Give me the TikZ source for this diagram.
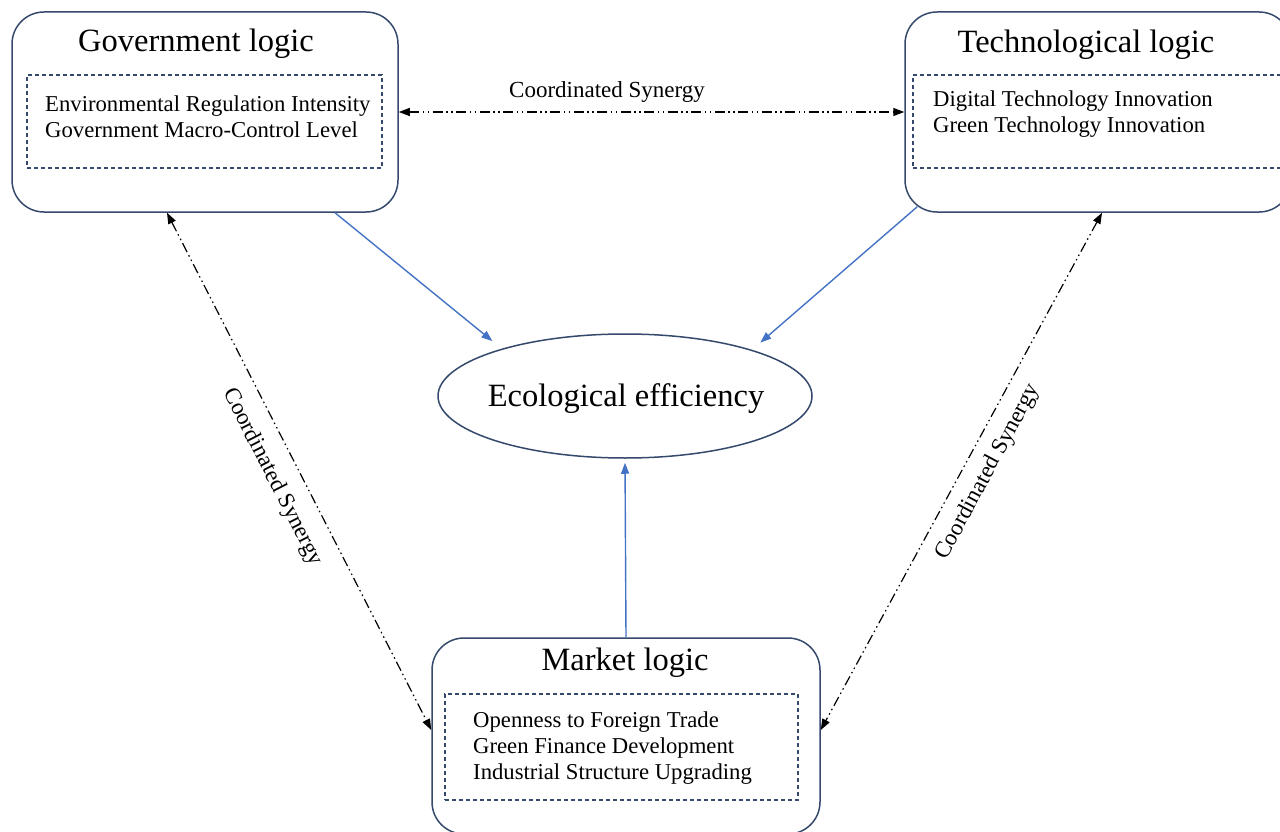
\documentclass[tikz,border=0pt]{standalone}
\usepackage{fontspec}
\setmainfont{Liberation Serif}
\usetikzlibrary{arrows.meta,shapes.geometric}
\definecolor{frame}{HTML}{34496B}
\definecolor{flow}{HTML}{4472C4}
\begin{document}
\begin{tikzpicture}[x=1pt,y=-1pt,
  logicbox/.style={draw=frame,line width=1.5pt,rounded corners=32pt,inner sep=0pt,minimum width=386pt},
  itembox/.style={draw=frame,line width=1.1pt,dash pattern=on 4pt off 3pt,inner sep=0pt},
  titletext/.style={anchor=base,font=\fontsize{32.5}{38}\selectfont,inner sep=0pt},
  itemtext/.style={anchor=base west,font=\fontsize{22.7}{26}\selectfont,inner sep=0pt},
  flowarrow/.style={draw=flow,line width=1.4pt,-{Triangle[length=11pt,width=8pt]}},
  synergy/.style={draw=black,line width=1.2pt,
    dash pattern=on 10pt off 3.5pt on 1.5pt off 3.5pt on 1.5pt off 3.5pt,
    {Triangle[length=11pt,width=8pt]}-{Triangle[length=11pt,width=8pt]}},
  synlabel/.style={font=\fontsize{23}{28}\selectfont,inner sep=0pt}]
\useasboundingbox (0,0) rectangle (1280,832);
\clip (0,0) rectangle (1280,832);

% three logic boxes
\node[logicbox,minimum height=200pt] (gov) at (205,112) {};
\node[logicbox,minimum height=200pt] (tech) at (1098,112) {};
\node[logicbox,minimum width=388pt,minimum height=196pt] (mkt) at (626,736) {};

% dashed indicator frames
\node[itembox,minimum width=355pt,minimum height=93pt] (govin) at (204.5,121.5) {};
\node[itembox,minimum width=372pt,minimum height=93pt] (techin) at (1099,121.5) {};
\node[itembox,minimum width=353pt,minimum height=106pt] (mktin) at (621.5,747) {};

% titles
\node[titletext] (govt) at (196,52) {Government logic};
\node[titletext] (techt) at (1086,53) {Technological logic};
\node[titletext] (mktt) at (625,670) {Market logic};

% indicators
\foreach \t [count=\i] in {Environmental Regulation Intensity,Government Macro-Control Level}
  \node[itemtext] (gov-\i) at (45,{112+26*(\i-1)}) {\t};
\foreach \t [count=\i] in {Digital Technology Innovation,Green Technology Innovation}
  \node[itemtext] (tech-\i) at (933,{107+26*(\i-1)}) {\t};
\foreach \t [count=\i] in {Openness to Foreign Trade,Green Finance Development,Industrial Structure Upgrading}
  \node[itemtext] (mkt-\i) at (473,{727+26*(\i-1)}) {\t};

% central outcome
\node[draw=frame,line width=1.5pt,ellipse,minimum width=374pt,minimum height=124pt,inner sep=0pt] (eco) at (625,396) {};
\node[titletext] (ecot) at (626,406) {Ecological efficiency};

% direct effects
\draw[flowarrow,shorten >=12pt] ([xshift=130pt]gov.south) -- (eco.159);
\draw[flowarrow,shorten >=11pt] ([shift={(13,-6)}]tech.south west) -- (eco.20);
\draw[flowarrow,shorten >=4pt] (mkt.north) -- (eco.south);

% coordinated synergy links
\draw[synergy] (gov.east) -- (tech.west);
\node[synlabel,anchor=base] (syn-top) at (607,98) {Coordinated Synergy};
\draw[synergy] ([xshift=-38pt]gov.south) -- ([yshift=6pt]mkt.west);
\node[synlabel,rotate=-62.9] (syn-left) at (272.5,477) {Coordinated Synergy};
\draw[synergy] ([xshift=4pt]tech.south) -- ([yshift=6pt]mkt.east);
\node[synlabel,rotate=61.7] (syn-right) at (988,472) {Coordinated Synergy};
\end{tikzpicture}
\end{document}
